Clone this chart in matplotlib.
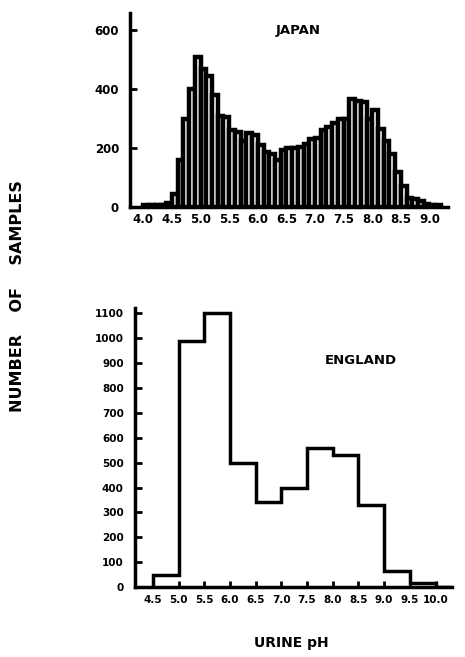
import numpy as np
import matplotlib
matplotlib.use("Agg")
import matplotlib.pyplot as plt

plt.rcParams['font.family'] = ['Liberation Sans Narrow', 'DejaVu Sans']
plt.rcParams['font.weight'] = 'bold'

# Japan: 0.1 pH bins starting at 4.0
japan_left = np.round(np.arange(4.0, 9.2, 0.1), 1)
japan_counts = [5, 5, 8, 5, 15, 45, 160, 300, 400, 510,
                470, 445, 380, 310, 305, 260, 255, 225, 250, 245,
                210, 185, 180, 160, 195, 200, 200, 205, 215, 230,
                235, 260, 270, 285, 300, 300, 365, 360, 355, 300,
                330, 265, 225, 180, 120, 70, 30, 28, 20, 10,
                8, 8]
japan_ticks = [4.0, 4.5, 5.0, 5.5, 6.0, 6.5, 7.0, 7.5, 8.0, 8.5, 9.0]
japan_yticks = [0, 200, 400, 600]

# England: 0.5 pH bins
england_edges = [4.5, 5.0, 5.5, 6.0, 6.5, 7.0, 7.5, 8.0, 8.5, 9.0, 9.5, 10.0]
england_counts = [50, 990, 1100, 500, 340, 400, 560, 530, 330, 65, 15]
england_ticks = [4.5, 5.0, 5.5, 6.0, 6.5, 7.0, 7.5, 8.0, 8.5, 9.0, 9.5, 10.0]
england_yticks = list(range(0, 1101, 100))

fig = plt.figure(figsize=(4.65, 6.57), dpi=100)

# --- Japan ---
ax1 = fig.add_axes([0.28, 0.685, 0.683, 0.295])
ax1.bar(japan_left, japan_counts, width=0.1, align='edge',
        facecolor='white', edgecolor='black', linewidth=3.2)
ax1.set_xlim(3.77, 9.32)
ax1.set_ylim(0, 658)
ax1.set_xticks(japan_ticks)
ax1.set_xticklabels([f"{t:.1f}" for t in japan_ticks], fontsize=8.5, fontweight='bold')
ax1.set_yticks(japan_yticks)
ax1.set_yticklabels([str(v) for v in japan_yticks], fontsize=8.5, fontweight='bold')
ax1.tick_params(axis='x', length=0, pad=4)
ax1.tick_params(axis='y', direction='in', length=5, width=2, pad=8)
ax1.text(6.7, 600, "JAPAN", fontsize=9.5, fontweight='bold', ha='center', va='center')

# --- England ---
ax2 = fig.add_axes([0.29, 0.1065, 0.682, 0.424])
ax2.stairs(england_counts, england_edges, baseline=0, color='black', linewidth=2.5)
ax2.plot([10.0, 10.32], [0, 0], color='black', linewidth=2.5)
ax2.set_xlim(4.15, 10.32)
ax2.set_ylim(0, 1120)
ax2.set_xticks(england_ticks)
ax2.set_xticklabels([f"{t:.1f}" for t in england_ticks], fontsize=7.5, fontweight='bold')
ax2.set_yticks(england_yticks)
ax2.set_yticklabels([str(v) for v in england_yticks], fontsize=7.5, fontweight='bold')
ax2.tick_params(axis='x', direction='in', length=4, width=2, pad=6)
ax2.tick_params(axis='y', direction='in', length=5, width=2, pad=8)
ax2.text(8.55, 910, "ENGLAND", fontsize=9.5, fontweight='bold', ha='center', va='center')

for ax in (ax1, ax2):
    ax.spines['top'].set_visible(False)
    ax.spines['right'].set_visible(False)
    ax.spines['left'].set_linewidth(2.5)
    ax.spines['bottom'].set_linewidth(2.5)

fig.text(0.037, 0.55, "NUMBER    OF    SAMPLES", rotation=90, fontsize=11.5,
         fontweight='bold', ha='center', va='center')
fig.text(0.627, 0.022, "URINE pH", fontsize=10, fontweight='bold',
         ha='center', va='center')

fig.savefig("out.png", dpi=100)
